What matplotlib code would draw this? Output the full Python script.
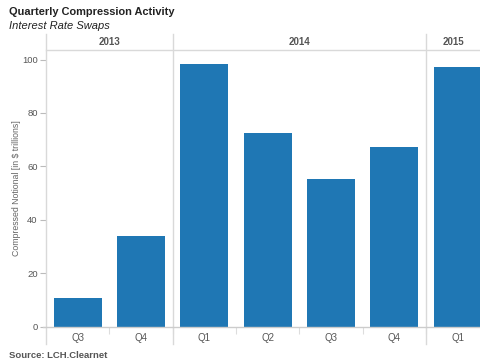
import matplotlib
matplotlib.use('Agg')
import matplotlib.pyplot as plt
from matplotlib.lines import Line2D
from matplotlib.transforms import blended_transform_factory

years = ['2013', '2014', '2015']
quarters = ['Q3', 'Q4', 'Q1', 'Q2', 'Q3', 'Q4', 'Q1']
year_of_bar = [0, 0, 1, 1, 1, 1, 2]
notional = [10.6, 33.9, 98.2, 72.4, 55.3, 67.2, 97.1]
y_ticks = [0, 20, 40, 60, 80, 100]

W, H = 481, 362
plt.rcParams['font.family'] = ['Liberation Sans', 'DejaVu Sans']
fig = plt.figure(figsize=(W / 100, H / 100), dpi=100)

# pixel geometry of the plotting pane
left, right = 46, 481
top, base = 50, 326.5
ax = fig.add_axes([left / W, 1 - base / H, (right - left) / W, (base - top) / H])

x = list(range(len(quarters)))
ax.bar(x, notional, width=0.76, color='#1f77b4', zorder=2)

slot = 63.4
xmax = len(quarters) - 1.5 + (right - 426) / slot
ax.set_xlim(-0.5, xmax)
ax.set_ylim(0, (base - top) / 2.67)

for s in ax.spines.values():
    s.set_visible(False)

grey = '#555555'
line_c = '#d9d9d9'
ax.set_yticks(y_ticks)
ax.tick_params(axis='y', length=4, width=0.8, color='#bbbbbb', labelsize=6.8,
               labelcolor=grey, pad=2)
ax.set_xticks(x)
ax.set_xticklabels(quarters)
ax.tick_params(axis='x', length=0, labelsize=7, labelcolor=grey, pad=5)
ax.set_xticks([i + 0.5 for i in range(len(quarters) - 1)], minor=True)
ax.tick_params(axis='x', which='minor', length=5, width=0.8, color='#dddddd')

ax.set_ylabel('Compressed Notional [in $ trillions]', fontsize=6.3,
              color='#666666', labelpad=1)

tr = blended_transform_factory(ax.transData, fig.transFigure)

# year separators
bounds = [-0.5]
for i in range(1, len(year_of_bar)):
    if year_of_bar[i] != year_of_bar[i - 1]:
        bounds.append(i - 0.5)
for b in bounds:
    fig.add_artist(Line2D([b, b], [1 - 34 / H, 1 - 344 / H], transform=tr,
                          color=line_c, lw=1))

# header and baseline rules
fig.add_artist(Line2D([left / W, 1], [1 - top / H] * 2, color=line_c, lw=1))
fig.add_artist(Line2D([43 / W, 1], [1 - base / H] * 2, color='#cccccc', lw=1))

edges = bounds + [xmax]
for k, yr in enumerate(years):
    cx = (edges[k] + edges[k + 1]) / 2
    fig.text(cx, 1 - 42 / H, yr, transform=tr, ha='center', va='center',
             fontsize=7, fontweight='bold', color='#555555')

fig.text(9 / W, 1 - 12 / H, 'Quarterly Compression Activity', fontsize=7.9,
         fontweight='bold', color='#222222', va='center')
fig.text(9 / W, 1 - 26 / H, 'Interest Rate Swaps', fontsize=8,
         style='italic', color='#222222', va='center')
fig.text(9 / W, 1 - 355 / H, 'Source: LCH.Clearnet', fontsize=6.8,
         fontweight='bold', color='#555555', va='center')

fig.savefig('out.png', dpi=100)
